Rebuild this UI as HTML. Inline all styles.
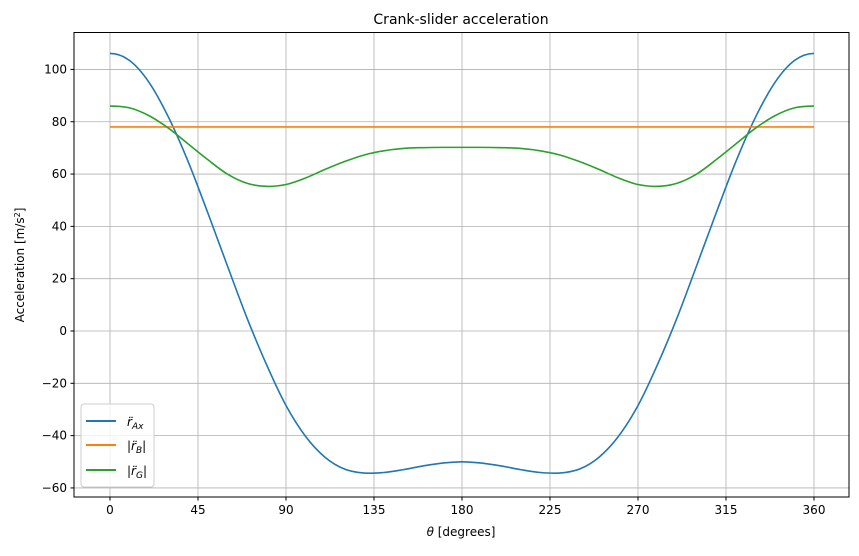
<!DOCTYPE html>
<html><head><meta charset="utf-8"><style>
body{margin:0;background:#fff;font-family:"Liberation Sans","DejaVu Sans",sans-serif;}
svg text{font-family:"DejaVu Sans","Liberation Sans",sans-serif;}
</style></head><body>
<svg id="chart" width="859" height="551" xmlns="http://www.w3.org/2000/svg">
<rect width="859" height="551" fill="#fff"/>
<text x="461" y="24" font-size="14" text-anchor="middle">Crank-slider acceleration</text>
<g id="grid"></g>
<g id="series"></g>
<rect x="74" y="32.5" width="775" height="464.5" fill="none" stroke="#000" stroke-width="1"/>
<g id="ticks"></g>
<text x="461" y="536" font-size="12" text-anchor="middle"><tspan font-style="italic">θ</tspan> [degrees]</text>
<text transform="translate(24,265) rotate(-90)" font-size="12" text-anchor="middle">Acceleration [m/s<tspan baseline-shift="super" font-size="8">2</tspan>]</text>
<g>
<rect x="81" y="404" width="73" height="83" rx="3" fill="#fff" fill-opacity="0.8" stroke="#ccc"/>
<line x1="86" y1="421" x2="116" y2="421" stroke="#1f77b4" stroke-width="2"/>
<text x="127" y="426" font-size="12" font-style="italic">r̈<tspan font-size="9" dy="3">Ax</tspan></text>
<line x1="86" y1="445" x2="116" y2="445" stroke="#ff7f0e" stroke-width="2"/>
<text x="127" y="450" font-size="12" font-style="italic">|r̈<tspan font-size="9" dy="3">B</tspan><tspan dy="-3">|</tspan></text>
<line x1="86" y1="470" x2="116" y2="470" stroke="#2ca02c" stroke-width="2"/>
<text x="127" y="475" font-size="12" font-style="italic">|r̈<tspan font-size="9" dy="3">G</tspan><tspan dy="-3">|</tspan></text>
</g>
</svg>
<script>
const thetas=[0,10,20,30,40,50,60,70,80,90,100,110,120,130,140,150,160,170,180,190,200,210,220,230,240,250,260,270,280,290,300,310,320,330,340,350,360];
const rAx=[106.1,103.4,95.0,81.6,64.7,45.2,25.0,5.1,-12.8,-28.5,-40.3,-48.3,-52.8,-54.3,-54.1,-53.0,-51.6,-50.5,-50.0,-50.5,-51.6,-53.0,-54.1,-54.3,-52.8,-48.3,-40.3,-28.5,-12.8,5.1,25.0,45.2,64.7,81.6,95.0,103.4,106.1];
const rB=[78,78,78,78,78,78,78,78,78,78,78,78,78,78,78,78,78,78,78,78,78,78,78,78,78,78,78,78,78,78,78,78,78,78,78,78,78];
const rG=[86,85.3,82.3,77.5,71.5,65.5,60,56.5,55.3,56,58.5,61.8,64.8,67.3,68.9,69.8,70.1,70.2,70.2,70.2,70.1,69.8,68.9,67.3,64.8,61.8,58.5,56,55.3,56.5,60,65.5,71.5,77.5,82.3,85.3,86];
const xTicks=[0,45,90,135,180,225,270,315,360];
const yTicks=[-60,-40,-20,0,20,40,60,80,100];
const NS="http://www.w3.org/2000/svg";
const X=t=>110+t*(704/360);
const Y=v=>331-v*(418.5/160);
const grid=document.getElementById('grid'),ticks=document.getElementById('ticks'),ser=document.getElementById('series');
function mk(tag,attrs,parent){const e=document.createElementNS(NS,tag);for(const k in attrs)e.setAttribute(k,attrs[k]);parent.appendChild(e);return e;}
xTicks.forEach(t=>{
 const g=mk('line',{x1:X(t),x2:X(t),y1:32.5,y2:497,stroke:'#b0b0b0','stroke-width':0.8},grid);
 
 
 mk('line',{x1:X(t),x2:X(t),y1:497,y2:500.5,stroke:'#000'},ticks);
 const tx=mk('text',{x:X(t),y:514,'font-size':12,'text-anchor':'middle'},ticks);
 tx.textContent=t;
 
 
});
yTicks.forEach(v=>{
 const g=mk('line',{x1:74,x2:849,y1:Y(v),y2:Y(v),stroke:'#b0b0b0','stroke-width':0.8},grid);
 
 
 mk('line',{x1:70.5,x2:74,y1:Y(v),y2:Y(v),stroke:'#000'},ticks);
 const tx=mk('text',{x:67,y:Y(v)+4,'font-size':12,'text-anchor':'end'},ticks);
 tx.textContent=v<0?'−'+(-v):v;
 
 
});
function path(vals){
 const p=thetas.map((t,i)=>[X(t),Y(vals[i])]);
 let d='M'+p[0][0]+','+p[0][1];
 for(let i=0;i<p.length-1;i++){
  const p0=i===0?[2*p[0][0]-p[1][0],p[1][1]]:p[i-1],p1=p[i],p2=p[i+1];
  const p3=i+2>p.length-1?[2*p[p.length-1][0]-p[p.length-2][0],p[p.length-2][1]]:p[i+2];
  d+=' C'+(p1[0]+(p2[0]-p0[0])/6)+','+(p1[1]+(p2[1]-p0[1])/6)+' '+(p2[0]-(p3[0]-p1[0])/6)+','+(p2[1]-(p3[1]-p1[1])/6)+' '+p2[0]+','+p2[1];
 }
 return d;
}
const l1=mk('path',{d:path(rAx),fill:'none',stroke:'#1f77b4','stroke-width':1.6},ser);


const l2=mk('path',{d:path(rB),fill:'none',stroke:'#ff7f0e','stroke-width':1.6},ser);


const l3=mk('path',{d:path(rG),fill:'none',stroke:'#2ca02c','stroke-width':1.6},ser);


</script>
</body></html>
